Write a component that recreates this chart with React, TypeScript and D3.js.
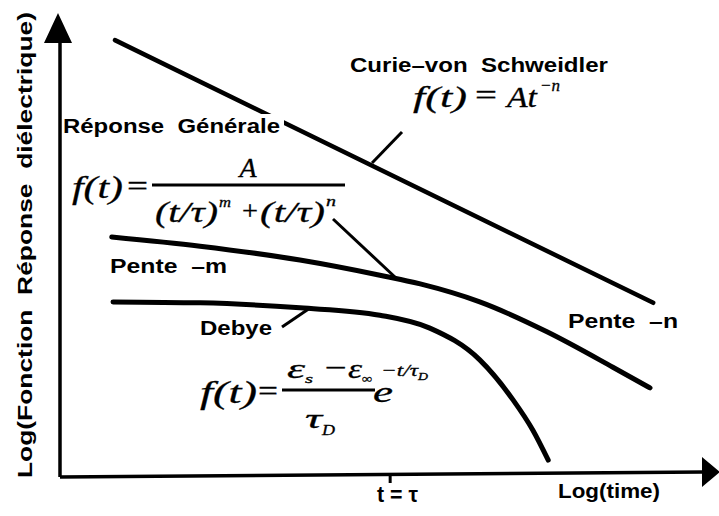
import React from "react";
import * as d3 from "d3";

// Schematic log-log dielectric response curves (abstract log units, 0–10 on each axis)
const curieLogT = [0.89, 9.3];
const curieLogF = [9.41, 3.7];

const generalLogT = [0.84, 2.22, 3.78, 5.03, 5.66, 6.59, 7.64, 8.67, 9.25];
const generalLogF = [5.13, 4.93, 4.63, 4.3, 4.11, 3.72, 3.07, 2.3, 1.85];

const debyeLogT = [0.86, 2.22, 3.78, 5.03, 5.81, 6.59, 7.11, 7.42, 7.66];
const debyeLogF = [3.72, 3.7, 3.59, 3.43, 3.15, 2.46, 1.59, 0.93, 0.28];

const tauLogT = 5.19;

const W = 719;
const H = 516;

const SANS = "'Liberation Sans', Arial, Helvetica, sans-serif";
const SERIF = "'Liberation Serif', 'Times New Roman', Times, serif";

const x = d3.scaleLinear().domain([0, 10]).range([58, 698]);
const y = d3.scaleLinear().domain([0, 10]).range([473, 13]);

const zip = (xs: number[], ys: number[]) => xs.map((v, i) => [v, ys[i]] as [number, number]);

const smooth = d3
  .line<[number, number]>()
  .x((d) => x(d[0]))
  .y((d) => y(d[1]))
  .curve(d3.curveMonotoneX);

const straight = d3
  .line<[number, number]>()
  .x((d) => x(d[0]))
  .y((d) => y(d[1]));

type TProps = {
  x: number;
  y: number;
  w?: number;
  size: number;
  children: React.ReactNode;
  italic?: boolean;
  serif?: boolean;
  bold?: boolean;
  anchor?: "start" | "middle" | "end";
};

const T = ({ x: tx, y: ty, w, size, children, italic, serif, bold, anchor }: TProps) => (
  <text
    x={tx}
    y={ty}
    fontSize={size}
    fontFamily={serif ? SERIF : SANS}
    fontStyle={italic ? "italic" : "normal"}
    fontWeight={bold ? "bold" : "normal"}
    textAnchor={anchor || "start"}
    textLength={w}
    lengthAdjust={w ? "spacingAndGlyphs" : undefined}
    fill="#000"
    stroke={serif ? "#000" : "none"}
    strokeWidth={serif ? 0.3 : 0}
    style={{ whiteSpace: "pre" }}
  >
    {children}
  </text>
);

export default function App() {
  const tx = x(tauLogT);
  return (
    <svg
      width={W}
      height={H}
      viewBox={`0 0 ${W} ${H}`}
      style={{ position: "absolute", left: 0, top: 0, background: "#fff" }}
    >
      <rect width={W} height={H} fill="#fff" />

      {/* axes */}
      <line x1={60} y1={477} x2={60} y2={40} stroke="#000" strokeWidth={3.5} />
      <polygon points="44,43 72,43 58,13" fill="#000" />
      <line x1={60} y1={477} x2={704} y2={472} stroke="#000" strokeWidth={3.5} />
      <polygon points="702,457 702,487 720,472" fill="#000" />
      <line x1={tx} y1={473} x2={tx} y2={483} stroke="#000" strokeWidth={3} />

      {/* Curie-von Schweidler power law */}
      <path
        d={straight(zip(curieLogT, curieLogF)) || ""}
        fill="none"
        stroke="#000"
        strokeWidth={4.5}
        strokeLinecap="round"
      />
      {/* general response */}
      <path
        d={smooth(zip(generalLogT, generalLogF)) || ""}
        fill="none"
        stroke="#000"
        strokeWidth={5}
        strokeLinecap="round"
      />
      {/* Debye relaxation */}
      <path
        d={smooth(zip(debyeLogT, debyeLogF)) || ""}
        fill="none"
        stroke="#000"
        strokeWidth={5}
        strokeLinecap="round"
      />

      {/* leader lines */}
      <line x1={402} y1={132} x2={372} y2={163} stroke="#000" strokeWidth={3} />
      <line x1={333} y1={219} x2={396} y2={278} stroke="#000" strokeWidth={3} />
      <line x1={282} y1={327} x2={310} y2={308} stroke="#000" strokeWidth={3} />

      {/* labels */}
      <rect x={150} y={114} width={134} height={22} fill="#fff" />
      <T x={63} y={133} w={217} size={20} bold>
        Réponse  Générale
      </T>
      <T x={350} y={72} w={258} size={21} bold>
        Curie–von  Schweidler
      </T>
      <T x={110} y={273} w={117} size={20} bold>
        Pente  –m
      </T>
      <T x={200} y={335} w={72} size={20} bold>
        Debye
      </T>
      <T x={568} y={328} w={110} size={20} bold>
        Pente  –n
      </T>
      <T x={558} y={498} w={102} size={21} bold>
        Log(time)
      </T>
      <T x={377} y={502} w={41} size={22} bold>
        t = τ
      </T>
      <g transform="translate(32,478) rotate(-90)">
        <T x={0} y={0} w={466} size={21} bold>
          Log(Fonction  Réponse  diélectrique)
        </T>
      </g>

      {/* f(t) = A t^-n */}
      <T x={413} y={107} w={54} size={30} serif italic>
        f(t)
      </T>
      <T x={475} y={105} w={22} size={30} serif>
        =
      </T>
      <T x={507} y={107} w={30} size={30} serif italic>
        At
      </T>
      <T x={540} y={91} w={20} size={17} serif italic>
        −n
      </T>

      {/* f(t) = A / ((t/τ)^m + (t/τ)^n) */}
      <T x={72} y={198} w={51} size={32} serif italic>
        f(t)
      </T>
      <T x={127} y={196} w={21} size={30} serif>
        =
      </T>
      <T x={248} y={177} size={28} serif italic anchor="middle">
        A
      </T>
      <line x1={152} y1={185} x2={345} y2={185} stroke="#000" strokeWidth={3} />
      <T x={155} y={222} w={63} size={30} serif italic>
        (t/τ)
      </T>
      <T x={219} y={207} w={12} size={15} serif italic>
        m
      </T>
      <T x={242} y={220} w={16} size={28} serif>
        +
      </T>
      <T x={260} y={222} w={65} size={30} serif italic>
        (t/τ)
      </T>
      <T x={326} y={206} w={10} size={15} serif italic>
        n
      </T>

      {/* Debye: f(t) = (εs − ε∞)/τD · e^(−t/τD) */}
      <T x={200} y={403} w={57} size={32} serif italic>
        f(t)
      </T>
      <T x={258} y={401} w={20} size={30} serif>
        =
      </T>
      <line x1={282} y1={390} x2={375} y2={390} stroke="#000" strokeWidth={3} />
      <T x={287} y={378} w={18} size={28} serif italic>
        ε
      </T>
      <T x={305} y={383} w={8} size={13} serif italic>
        s
      </T>
      <T x={325} y={377} w={22} size={28} serif>
        −
      </T>
      <T x={348} y={378} w={14} size={28} serif italic>
        ε
      </T>
      <T x={362} y={383} w={10} size={13} serif italic>
        ∞
      </T>
      <T x={305} y={428} w={17} size={28} serif italic>
        τ
      </T>
      <T x={322} y={435} w={13} size={15} serif italic>
        D
      </T>
      <T x={373} y={402} w={20} size={30} serif italic>
        e
      </T>
      <T x={381} y={376} w={37} size={17} serif italic>
        −t/τ
      </T>
      <T x={418} y={380} w={10} size={10} serif italic>
        D
      </T>
    </svg>
  );
}
